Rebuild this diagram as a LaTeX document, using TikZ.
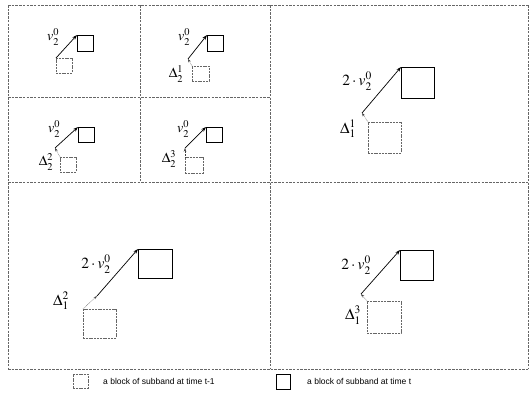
\documentclass[tikz,border=0pt]{standalone}
\usepackage[no-math]{fontspec}
\usepackage{mathptmx}
\newfontfamily\legendfont{Liberation Sans}
\usetikzlibrary{arrows.meta}
\begin{document}
\begin{tikzpicture}[x=1pt,y=-1pt,
  frame/.style={black!60, line width=0.6pt, dash pattern=on 2.5pt off 1.2pt},
  tblock/.style={draw, line width=0.9pt, rectangle, inner sep=0pt, outer sep=0pt, anchor=north west},
  pblock/.style={draw=black!60, line width=0.5pt, dash pattern=on 2pt off 0.8pt, rectangle, inner sep=0pt, outer sep=0pt, anchor=north west},
  mv/.style={-{Stealth[length=5pt,width=3.5pt]}, line width=0.7pt},
  dv/.style={-{Stealth[length=3.5pt,width=2.5pt]}, line width=0.5pt, black!75, densely dotted},
  lab/.style={font=\fontsize{14}{16}\selectfont, inner sep=0pt},
  biglab/.style={font=\fontsize{15.5}{17}\selectfont, inner sep=0pt},
  leg/.style={font=\legendfont\fontsize{8.5}{10}\selectfont, anchor=west, inner sep=0pt}
]
\useasboundingbox (0,0) rectangle (532,392);
% frame
\draw[frame] (8,5) -- (528,5);
\draw[frame] (8,5) -- (8,369);
\draw[frame] (528,5) -- (528,369);
\draw[frame] (8,369) -- (528,369);
\draw[frame] (8,182) -- (528,182);
\draw[frame] (270,5) -- (270,369);
\draw[frame] (140,5) -- (140,182);
\draw[frame] (8,97) -- (270,97);

% panel TL1
\node[tblock, minimum width=16pt, minimum height=16pt] (ta) at (77,35) {};
\node[pblock, minimum width=16pt, minimum height=15pt] (pa) at (56,58) {};
\draw[mv] (pa.north west) -- (ta.north west);
\node[lab] (va) at (53,37) {$v_2^0$};

% panel TR1
\node[tblock, minimum width=16pt, minimum height=16pt] (tb) at (207,35) {};
\node[pblock, minimum width=17pt, minimum height=15pt] (pb) at (192,66) {};
\coordinate (Pb) at (188,59);
\draw[mv] (Pb) -- (tb.north west);
\draw[dv] (pb.north west) -- (Pb);
\node[lab] (vb) at (184,37) {$v_2^0$};
\node[lab] (db) at (176,74) {$\Delta_2^1$};

% panel BL1
\node[tblock, minimum width=16pt, minimum height=15pt] (tc) at (78,127) {};
\node[pblock, minimum width=16pt, minimum height=15pt] (pc) at (60,157) {};
\coordinate (Pc) at (55,148);
\draw[mv] (Pc) -- (tc.north west);
\draw[dv] (pc.north west) -- (Pc);
\node[lab] (vc) at (54,129) {$v_2^0$};
\node[lab] (dc) at (46,162) {$\Delta_2^2$};

% panel BR1
\node[tblock, minimum width=16pt, minimum height=15pt] (td) at (206,127) {};
\node[pblock, minimum width=18pt, minimum height=16pt] (pd) at (185,157) {};
\coordinate (Pd) at (185,148);
\draw[mv] (Pd) -- (td.north west);
\draw[dv] (pd.north west) -- (Pd);
\node[lab] (vd) at (183,129) {$v_2^0$};
\node[lab] (dd) at (169,159) {$\Delta_2^3$};

% panel TR big
\node[tblock, minimum width=33pt, minimum height=31pt] (te) at (401,67) {};
\node[pblock, minimum width=33pt, minimum height=31pt] (pe) at (368,122) {};
\coordinate (Pe) at (362,113);
\draw[mv] (Pe) -- (te.north west);
\draw[dv] (pe.north west) -- (Pe);
\node[biglab] (ve) at (357,81) {$2\cdot v_2^0$};
\node[biglab] (de) at (348,129) {$\Delta_1^1$};

% panel BL big
\node[tblock, minimum width=34pt, minimum height=29pt] (tf) at (138,249) {};
\node[pblock, minimum width=33pt, minimum height=29pt] (pf) at (83,309) {};
\coordinate (Pf) at (97,296);
\draw[mv] (Pf) -- (tf.north west);
\draw[dv] (pf.north west) -- (Pf);
\node[biglab] (vf) at (96,264) {$2\cdot v_2^0$};
\node[biglab] (df) at (61,301) {$\Delta_1^2$};

% panel BR big
\node[tblock, minimum width=33pt, minimum height=30pt] (tg) at (400,250) {};
\node[pblock, minimum width=34pt, minimum height=32pt] (pg) at (367,301) {};
\coordinate (Pg) at (361,294);
\draw[mv] (Pg) -- (tg.north west);
\draw[dv] (pg.north west) -- (Pg);
\node[biglab] (vg) at (356,265) {$2\cdot v_2^0$};
\node[biglab] (dg) at (353,315) {$\Delta_1^3$};

% legend
\node[pblock, minimum width=15pt, minimum height=14pt] (l1) at (73,374) {};
\node[leg] (l1t) at (103,381) {a block of subband at time t-1};
\node[tblock, line width=0.6pt, minimum width=14pt, minimum height=15pt] (l2) at (276,374) {};
\node[leg] (l2t) at (307,381) {a block of subband at time t};
\end{tikzpicture}
\end{document}
